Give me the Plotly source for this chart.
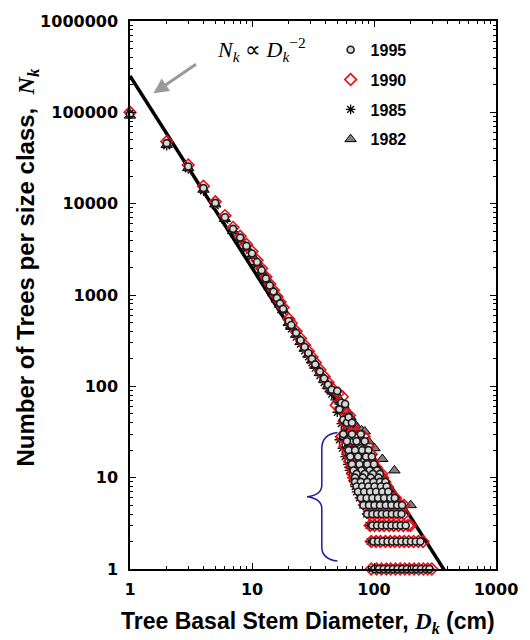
import plotly.graph_objects as go

# ---------------- data ----------------
d_main = [1, 2, 3, 4, 5, 6, 7, 8, 9, 10, 11, 12, 13, 14, 15, 16, 17, 18,
          20, 21, 23, 25, 27, 29, 31, 33, 36, 39, 42, 45]

n_main_1995 = [95000, 46000, 25500, 14800, 10200, 7100, 5300, 4250, 3450, 2850, 2300,
               1870, 1520, 1270, 1090, 930, 810, 705, 520, 470, 385, 320, 270, 232,
               200, 174, 145, 122, 104, 92]
n_main_1990 = [100000, 48000, 26500, 15500, 10500, 7400, 5500, 4400, 3600, 3000, 2400,
               1950, 1580, 1320, 1130, 960, 840, 730, 545, 490, 400, 335, 282, 242,
               210, 182, 152, 128, 110, 96]
n_main_1985 = [98000, 43000, 24000, 13800, 9500, 6600, 4900, 3950, 3200, 2650, 2150,
               1750, 1430, 1190, 1020, 870, 760, 660, 470, 425, 345, 290, 245, 210,
               181, 158, 131, 110, 94, 82]
n_main_1982 = [92000, 44000, 24500, 14200, 9800, 6800, 5000, 4050, 3300, 2700, 2200,
               1800, 1460, 1220, 1040, 890, 780, 680, 495, 448, 366, 305, 258, 222,
               192, 168, 140, 118, 101, 90]

d_mid_1995 = [50, 52, 54, 56, 58, 60, 62, 64, 66, 68, 70, 72, 74, 76, 78, 80, 82, 84, 86, 88]
n_mid_1995 = [89, 56, 66, 43, 64, 40, 46, 27, 40, 25, 28, 18, 24, 16, 21, 11, 15, 11, 14, 10]
d_mid_1990 = [49, 51, 53, 55, 57, 59, 61, 63, 65, 67, 69, 71, 73, 75, 77, 79, 81, 83, 85, 87, 90]
n_mid_1990 = [62, 84, 57, 77, 41, 51, 32, 48, 31, 36, 22, 31, 18, 22, 13, 19, 13, 16, 10, 12, 9]
d_mid_1985 = [48, 50, 52, 54, 56, 58, 60, 62, 64, 66, 68, 70, 72, 74, 76, 78, 80, 83]
n_mid_1985 = [71, 52, 59, 39, 43, 34, 37, 24, 29, 22, 22, 15, 18, 13, 14, 10, 10, 8]
d_mid_1982 = [48, 52, 56, 60, 64, 68, 73, 79, 84, 90, 101, 117, 147]
n_mid_1982 = [86, 72, 62, 54, 46, 40, 35, 33, 32, 25, 21, 16, 12]

# tail rows: count N -> diameters having that count
tail_1995 = {
    30: [56, 66, 78],
    25: [60, 72, 84],
    20: [62, 70, 80, 90],
    17: [64, 74, 86, 96],
    14: [66, 76, 88, 100],
    12: [68, 79, 92, 106],
    11: [72, 84, 98, 112],
    10: [70, 81, 94, 109],
    9: [70, 78, 88, 99, 112, 124],
    8: [72, 80, 90, 101, 114, 127],
    7: [74, 83, 93, 104, 117, 131],
    6: [78, 87, 97, 108, 121, 136, 148],
    5: [82, 91, 101, 112, 125, 139, 155, 170],
    4: [88, 97, 106, 116, 127, 140, 154, 168],
    3: [97, 106, 116, 127, 139, 152, 166, 182],
    2: [99, 108, 118, 129, 141, 154, 168, 184, 201, 220, 240],
    1: [101, 110, 120, 131, 143, 156, 170, 186, 203, 222, 243, 266, 285],
}
tail_1990 = {
    28: [54, 63, 74, 83],
    22: [58, 68, 79, 90],
    18: [61, 71, 83, 95],
    15: [63, 73, 84, 98],
    13: [65, 76, 89, 104],
    11: [67, 78, 91, 108, 116],
    10: [69, 85, 100, 118],
    9: [72, 83, 95, 108, 122],
    8: [75, 85, 96, 108, 121, 128],
    7: [78, 88, 99, 111, 124, 135],
    6: [80, 90, 101, 113, 126, 140, 150],
    5: [84, 94, 105, 117, 131, 146, 162, 176],
    4: [92, 101, 111, 121, 133, 146, 160, 176],
    3: [93, 101, 111, 121, 133, 145, 159, 174, 190, 199],
    2: [95, 104, 113, 124, 136, 148, 162, 177, 193, 211, 231, 252],
    1: [95, 105, 115, 126, 137, 150, 164, 179, 195, 213, 233, 254, 276, 298],
}
tail_1985 = {
    26: [52, 58, 64],
    21: [55, 61, 68],
    17: [58, 64, 71],
    14: [61, 67, 75],
    12: [63, 70, 78],
    10: [66, 73, 82],
    9: [68, 75, 84, 94],
    8: [70, 77, 86, 96, 106],
    7: [72, 79, 88, 98],
    6: [76, 83, 91, 100, 110],
    5: [81, 88, 96, 105, 115, 126],
    4: [87, 95, 104, 114, 125, 137],
    3: [91, 99, 108, 118, 129, 141, 154],
    2: [93, 102, 111, 122, 133, 145, 158, 173],
    1: [97, 106, 116, 127, 139, 152, 166, 181, 198, 216],
}
tail_1982 = {
    9: [117],
    5: [160, 200],
}

# power-law guide line N = c * D^e
fit_coef = 2.5e5
fit_exp = -2.1
fit_d = [1, 380]

x_ticks = [1, 10, 100, 1000]
y_ticks = [1, 10, 100, 1000, 10000, 100000, 1000000]


def build(d_a, n_a, d_b, n_b, tail):
    xs = list(d_a) + list(d_b)
    ys = list(n_a) + list(n_b)
    for n, ds in tail.items():
        xs += ds
        ys += [n] * len(ds)
    return xs, ys


# plot area in pixels (for paper coordinates of decorations)
L, R, T, B = 130, 504, 15, 569


def px(x):
    return (x - L) / (R - L)


def py(y):
    return (B - y) / (B - T)


fig = go.Figure()

fig.add_trace(go.Scatter(
    x=fit_d, y=[fit_coef * d ** fit_exp for d in fit_d], mode="lines",
    line=dict(color="black", width=3.5), showlegend=False, hoverinfo="skip"))

series = [
    ("1982", 4, build(d_main, n_main_1982, d_mid_1982, n_mid_1982, tail_1982),
     dict(symbol="triangle-up", size=10, color="#808080", line=dict(color="black", width=1))),
    ("1985", 3, build(d_main, n_main_1985, d_mid_1985, n_mid_1985, tail_1985),
     dict(symbol="asterisk-open", size=8, color="black", line=dict(color="black", width=1.3))),
    ("1990", 2, build(d_main, n_main_1990, d_mid_1990, n_mid_1990, tail_1990),
     dict(symbol="diamond-open", size=9, color="#e3101a", line=dict(color="#e3101a", width=1.6))),
    ("1995", 1, build(d_main, n_main_1995, d_mid_1995, n_mid_1995, tail_1995),
     dict(symbol="circle", size=7, color="#d8d8d8", line=dict(color="#1a1a1a", width=1.6))),
]
for name, rank, (xs, ys), mk in series:
    fig.add_trace(go.Scatter(x=xs, y=ys, mode="markers", name=name, marker=mk,
                             legendgroup=name, legendrank=rank, cliponaxis=False))

tickfont = dict(family="DejaVu Sans", size=16, color="black", weight="bold")
axis_common = dict(type="log", showgrid=False, zeroline=False, showline=True,
                   linecolor="black", linewidth=1.5, mirror="allticks",
                   ticks="inside", ticklen=6, tickwidth=1.2, tickcolor="black",
                   tickfont=tickfont,
                   minor=dict(ticks="inside", ticklen=3, tickcolor="black",
                              tickwidth=1, dtick="D1", showgrid=False))
fig.update_xaxes(range=[0, 3], tickvals=x_ticks, ticktext=[str(v) for v in x_ticks],
                 ticklabelstandoff=5, **axis_common)
fig.update_yaxes(range=[0, 6], tickvals=y_ticks, ticktext=[str(v) for v in y_ticks],
                 ticklabelstandoff=7, **axis_common)

serif = "font-family:Liberation Serif"
annotations = [
    dict(xref="paper", yref="paper", x=px(312), y=py(623), xanchor="center", yanchor="middle",
         showarrow=False,
         text="Tree Basal Stem Diameter, <span style='%s'><i>D</i><sub><i>k</i></sub></span> (cm)" % serif,
         font=dict(family="Liberation Sans", size=23, color="black", weight="bold")),
    dict(xref="paper", yref="paper", x=px(25), y=py(264), xanchor="center", yanchor="middle",
         showarrow=False, textangle=-90,
         text="Number of Trees per size class,  <span style='%s'><i>N</i><sub><i>k</i></sub></span>" % serif,
         font=dict(family="Liberation Sans", size=24, color="black", weight="bold")),
    dict(xref="paper", yref="paper", x=px(264), y=py(44), xanchor="center", yanchor="middle",
         showarrow=False,
         text="<i>N</i><sub><i>k</i></sub> ∝ <i>D</i><sub><i>k</i></sub><sup>−2</sup>",
         font=dict(family="Liberation Serif", size=22, color="black")),
    dict(xref="paper", yref="paper", x=px(154), y=py(88), text="", showarrow=True,
         ax=44, ay=-30, arrowhead=2, arrowsize=1, arrowwidth=3, arrowcolor="#9a9a9a"),
]

# curly brace (decoration) in paper coordinates
brace_pts = [("M", 342, 431), ("Q", 326, 433, 326, 447), ("L", 326, 484),
             ("Q", 326, 494, 311, 496), ("Q", 326, 498, 326, 508), ("L", 326, 547),
             ("Q", 326, 559, 342, 561)]
path = ""
for seg in brace_pts:
    cmd, coords = seg[0], seg[1:]
    pts = []
    for i in range(0, len(coords), 2):
        pts.append("%.4f,%.4f" % (px(coords[i]), py(coords[i + 1])))
    path += cmd + " " + " ".join(pts) + " "

fig.update_layout(
    width=530, height=640,
    margin=dict(l=L, r=530 - R, t=T, b=640 - B),
    paper_bgcolor="white", plot_bgcolor="white",
    annotations=annotations,
    shapes=[dict(type="path", xref="paper", yref="paper", path=path.strip(),
                 line=dict(color="#1c1ca0", width=1.5))],
    legend=dict(x=px(335), y=py(27), xanchor="left", yanchor="top",
                traceorder="grouped", tracegroupgap=6,
                bgcolor="rgba(0,0,0,0)",
                font=dict(family="Liberation Sans", size=16, color="black", weight="bold")),
)

fig.write_html("out.html")
